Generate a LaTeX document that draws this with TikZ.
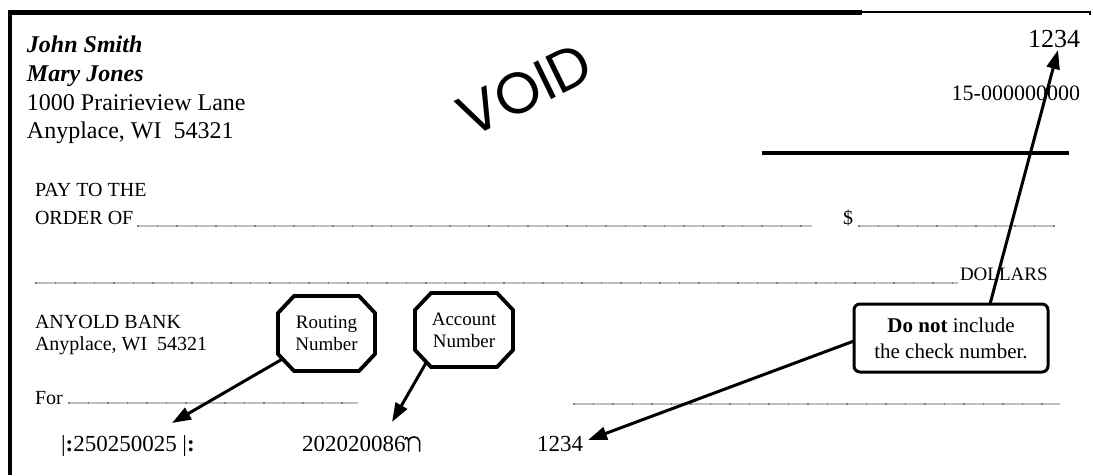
\documentclass[tikz,border=0pt]{standalone}
\usepackage{fontspec}
\setmainfont{Liberation Serif}
\newfontfamily\voidfont{Poppins}
\usetikzlibrary{arrows.meta}
\pgfdeclarelayer{arrowlayer}
\pgfdeclarelayer{octlayer}
\pgfsetlayers{arrowlayer,octlayer,main}
\newcommand\fsz[1]{\fontsize{#1}{#1}\selectfont}
\newcommand\drawoctagon[1]{%
  \draw[octline] ([xshift=16pt]#1.north west) -- ([xshift=-16pt]#1.north east)
   -- ([yshift=-17pt]#1.north east) -- ([yshift=17pt]#1.south east)
   -- ([xshift=-16pt]#1.south east) -- ([xshift=16pt]#1.south west)
   -- ([yshift=17pt]#1.south west) -- ([yshift=-17pt]#1.north west) -- cycle;}
\begin{document}
\begin{tikzpicture}[x=1pt,y=-1pt,
  every node/.style={inner sep=0pt, outer sep=0pt},
  lbl/.style={anchor=base west},
  rlbl/.style={anchor=base east},
  arr/.style={line width=3pt, -{Triangle[length=19pt,width=13pt]}},
  octbox/.style={minimum width=97pt, minimum height=75pt, align=center,
    font=\fontsize{19}{22}\selectfont},
  octline/.style={line width=3.8pt, fill=white, line join=miter},
  dotline/.style={draw=black!25, line width=1.6pt,
    postaction={draw=black!50, line width=1.6pt, dash pattern=on 1.5pt off 18pt}},
  callbox/.style={draw, line width=3pt, rounded corners=6pt, minimum width=194pt,
    minimum height=68pt, align=center, fill=white,
    font=\fontsize{21}{26}\selectfont},
  border/.style={line width=4.5pt, line join=miter},
  onus/.style={line width=1.5pt, line cap=round}
]
\useasboundingbox (0,0) rectangle (1093,475);

% check border
\draw[border] (10,475) -- (10,12.5) -- (862,12.5);
\draw[line width=2pt] (862,11.5) -- (1090,11.5) -- (1090,15);

% owner block
\node[lbl, font=\fsz{24}\bfseries\itshape] (john) at (27,52) {John Smith};
\node[lbl, font=\fsz{24}\bfseries\itshape] (mary) at (27,81) {Mary Jones};
\node[lbl, font=\fsz{24}] (street) at (27,110) {1000 Prairieview Lane};
\node[lbl, font=\fsz{24}] (city) at (27,138) {Anyplace, WI~ 54321};

% VOID stamp
\node[font=\voidfont\fsz{58}, rotate=26] (void) at (525,90) {VOID};

% check number and fraction
\node[rlbl, font=\fsz{26}] (topnum) at (1080,47) {1234};
\node[rlbl, font=\fsz{22}] (fraction) at (1080,100) {15-000000000};
\draw[line width=4pt] (762,153) -- (1069,153);

% payee
\node[lbl, font=\fsz{20}] (pay1) at (35,196) {PAY TO THE};
\node[lbl, font=\fsz{20}] (pay2) at (35,224) {ORDER OF};
\node[lbl, font=\fsz{20}] (dollar) at (843,224) {\$};
\node[lbl, font=\fsz{19}] (dollars) at (960,280) {DOLLARS};

% bank
\node[lbl, font=\fsz{20}] (bank) at (35,328) {ANYOLD BANK};
\node[lbl, font=\fsz{20}] (bankcity) at (35,350) {Anyplace, WI~ 54321};
\node[lbl, font=\fsz{20}] (memo) at (35,404) {For};

% MICR line
\node[lbl, font=\fsz{23}] (routnum) at (61,451) {|\textbf{:}250250025 |\textbf{:}};
\node[lbl, font=\fsz{23}] (acctnum) at (302,451) {202020086};
\node[lbl, font=\fsz{23}] (botnum) at (537,451) {1234};
% on-us symbol (no installed font has it): drawn as a shape
\begin{scope}[shift={(acctnum.base east)}]
  \draw[onus] (3,0) -- (3,-10) .. controls (3,-14) and (-0.5,-14.5) .. (-0.5,-11.5);
  \draw[onus] (3,-10) .. controls (4,-15.5) and (13,-15.5) .. (14,-10) -- (14,0);
\end{scope}

% octagon labels
\node[octbox] (rout) at (326.5,333.5) {Routing\\Number};
\node[octbox, minimum width=98pt, minimum height=74pt] (acct) at (464,330) {Account\\Number};
\begin{pgfonlayer}{octlayer}
  \drawoctagon{rout}
  \drawoctagon{acct}
\end{pgfonlayer}

\begin{pgfonlayer}{arrowlayer}
  \draw[dotline] (137,226) -- (812,226);
  \draw[dotline] (858,226) -- (1055,226);
  \draw[dotline] (35,283) -- (958,283);
  \draw[dotline] (68,403) -- (358,403);
  \draw[dotline] (573,404) -- (1060,404);
  \draw[arr] (rout.center) -- ([xshift=111pt,yshift=28pt]routnum.base west);
  \draw[arr] ([xshift=-19pt]acct.center) -- ([xshift=90pt,yshift=29pt]acctnum.base west);
\end{pgfonlayer}

% callout
\node[callbox] (callout) at (951,338) {\textbf{Do not} include\\the check number.};
\draw[arr] ([xshift=39pt]callout.north) -- ([xshift=-22pt,yshift=-3pt]topnum.base east);
\draw[arr] ([yshift=-3pt]callout.west) -- ([xshift=51pt,yshift=11pt]botnum.base west);
\end{tikzpicture}
\end{document}
